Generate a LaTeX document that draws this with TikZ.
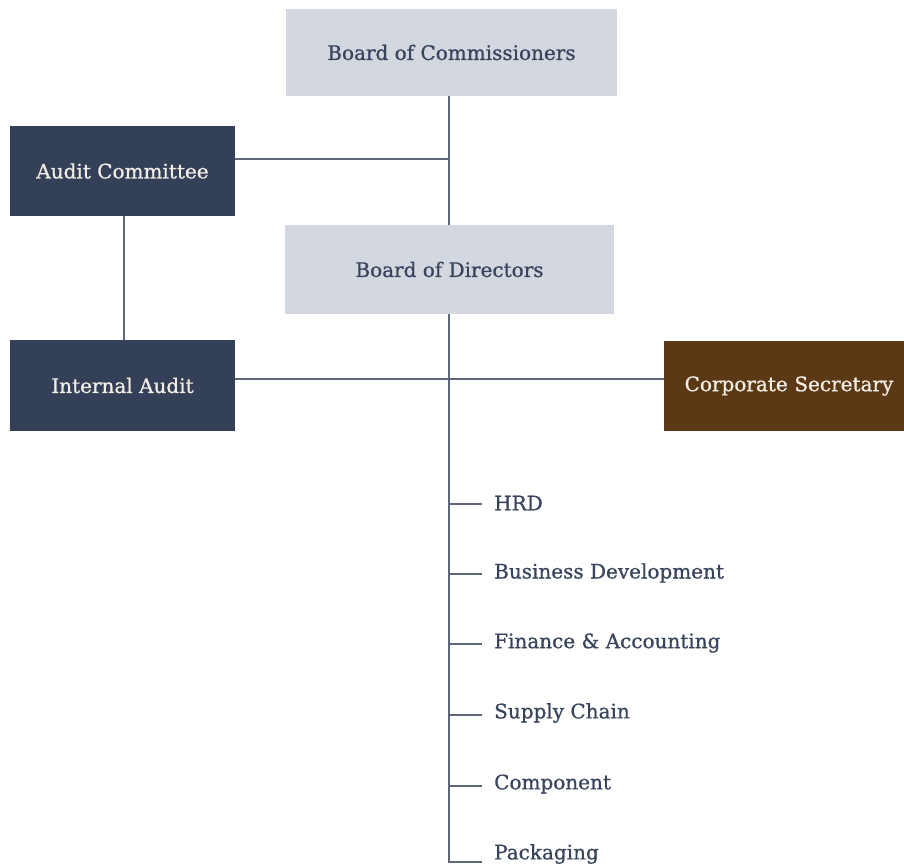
\documentclass[tikz,border=0pt]{standalone}
\usepackage{fontspec}
\setmainfont{DejaVu Serif}[FakeBold=0.8]
\definecolor{lightbox}{HTML}{D3D7E0}
\definecolor{navybox}{HTML}{344057}
\definecolor{brownbox}{HTML}{5C3915}
\definecolor{linecol}{HTML}{5F6678}
\definecolor{textnavy}{HTML}{38435C}
\definecolor{cream}{HTML}{F2EEE6}
\begin{document}
\begin{tikzpicture}[x=1pt,y=-1pt,
  box/.style={rectangle, inner sep=0pt, font=\fontsize{20}{24}\selectfont},
  lightb/.style={box, fill=lightbox, text=textnavy},
  darkb/.style={box, fill=navybox, text=cream},
  brownb/.style={box, fill=brownbox, text=cream},
  conn/.style={draw=linecol, line width=1.8pt},
  dept/.style={anchor=west, inner sep=0pt, text=textnavy, font=\fontsize{20}{24}\selectfont}]
\useasboundingbox (0,0) rectangle (904,866);
\node[lightb, minimum width=331pt, minimum height=87pt] (boc) at (451.5,52.5) {Board of Commissioners};
\node[darkb, minimum width=225pt, minimum height=90pt] (ac) at (122.5,171) {Audit Committee};
\node[lightb, minimum width=329pt, minimum height=89pt] (bod) at (449.5,269.5) {Board of Directors};
\node[darkb, minimum width=225pt, minimum height=91pt] (ia) at (122.5,385.5) {Internal Audit};
\node[brownb, minimum width=240pt, minimum height=90pt, text width=240pt, align=center] (cs) at (784,386) {\hspace*{10pt}Corporate Secretary};
\coordinate (j1) at (449,159);
\coordinate (j2) at (449,379);
\coordinate (bot) at (449,862);
\draw[conn] (j1 |- boc.south) -- (j1 |- bod.north);
\draw[conn] (ac.east |- j1) -- (j1);
\draw[conn] (124,0 |- ac.south) -- (124,0 |- ia.north);
\draw[conn] (ia.east |- j2) -- (cs.west |- j2);
\draw[conn] (j1 |- bod.south) -- (bot) -- ++(33,0);
\foreach \y/\t/\n in {503/HRD/d1, 573/Business Development/d2, 643/Finance \& Accounting/d3, 713/Supply Chain/d4, 784/Component/d5, 854/Packaging/d6} {
  \node[dept] (\n) at (494,\y) {\t};
}
\foreach \y/\n in {504/d1, 574/d2, 644/d3, 715/d4, 786/d5} {
  \coordinate (t\n) at (449,\y);
  \draw[conn] (t\n) -- ++(33,0);
}
\end{tikzpicture}
\end{document}
